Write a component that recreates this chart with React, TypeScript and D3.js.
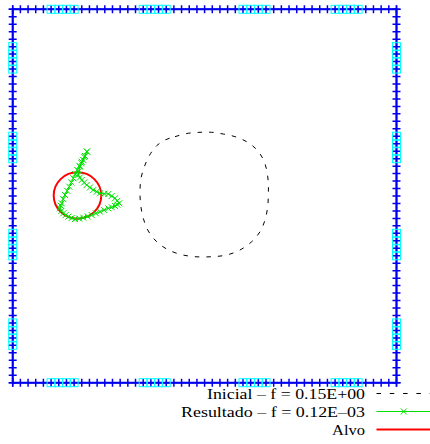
import React from "react";
import * as d3 from "d3";

const W = 430;
const H = 444;

// boundary mesh nodes along each side (parametric position 0..1)
const boundaryNodes = [
  0, 0.02, 0.04, 0.06, 0.08, 0.1, 0.12, 0.14, 0.16, 0.18, 0.2, 0.22, 0.24, 0.26, 0.28, 0.3, 0.32,
  0.34, 0.36, 0.38, 0.4, 0.42, 0.44, 0.46, 0.48, 0.5, 0.52, 0.54, 0.56, 0.58, 0.6, 0.62, 0.64, 0.66,
  0.68, 0.7, 0.72, 0.74, 0.76, 0.78, 0.8, 0.82, 0.84, 0.86, 0.88, 0.9, 0.92, 0.94, 0.96, 0.98, 1,
];
// indices of boundary nodes carrying sensors (same on every side)
const sensorNodes = [5, 6, 7, 8, 17, 18, 19, 20, 30, 31, 32, 33, 42, 43, 44, 45];

// initial shape (dashed)
const initialX = [
  0.397, 0.423, 0.4575, 0.488, 0.5185, 0.5487, 0.579, 0.6097, 0.634, 0.6514, 0.6618, 0.666, 0.666,
  0.6644, 0.6574, 0.6444, 0.6227, 0.5922, 0.5576, 0.5185, 0.475, 0.436, 0.4013, 0.3752, 0.3533,
  0.3403, 0.3335, 0.3317, 0.3343, 0.3447, 0.3596, 0.3752,
];
const initialY = [
  0.65, 0.659, 0.668, 0.6706, 0.6706, 0.666, 0.659, 0.6454, 0.626, 0.601, 0.5696, 0.534, 0.5027,
  0.4713, 0.4357, 0.4044, 0.3776, 0.3554, 0.342, 0.3374, 0.3374, 0.3439, 0.358, 0.3776, 0.4063,
  0.4403, 0.4759, 0.5115, 0.5474, 0.583, 0.6143, 0.6347,
];

// result shape (green with x markers)
const resultX = [
  0.1935, 0.1865, 0.1798, 0.174, 0.1683, 0.163, 0.1579, 0.1528, 0.1475, 0.142, 0.1363, 0.1318,
  0.1277, 0.125, 0.1232, 0.1268, 0.1318, 0.138, 0.1449, 0.1535, 0.1623, 0.1732, 0.184, 0.195,
  0.2058, 0.2168, 0.2275, 0.2383, 0.2491, 0.258, 0.2665, 0.2725, 0.2777, 0.2725, 0.2665, 0.2578,
  0.2491, 0.2383, 0.2275, 0.2188, 0.21, 0.2012, 0.1928, 0.1862, 0.1798, 0.175, 0.1709, 0.173,
  0.1754, 0.1795, 0.184, 0.1885, 0.1935,
];
const resultY = [
  0.619, 0.6045, 0.5919, 0.5808, 0.5696, 0.5585, 0.5474, 0.5362, 0.5249, 0.5138, 0.5027, 0.4916,
  0.4805, 0.474, 0.4671, 0.46, 0.4537, 0.4488, 0.4446, 0.441, 0.4384, 0.4395, 0.4419, 0.4452,
  0.4491, 0.4535, 0.458, 0.4625, 0.4671, 0.47, 0.4732, 0.4768, 0.4805, 0.487, 0.4938, 0.4998,
  0.5054, 0.506, 0.5072, 0.5115, 0.5161, 0.5228, 0.5295, 0.5362, 0.5429, 0.5495, 0.5562, 0.5675,
  0.5785, 0.5875, 0.5964, 0.607, 0.619,
];

// target (circle)
const targetCenter = [0.1688, 0.5013];
const targetRadius = 0.062;

const legendLabels = ["Inicial – f = 0.15E+00", "Resultado – f = 0.12E–03", "Alvo"];
const legendTextWidths = [158, 184, 33];

const BLUE = "#0000ee";
const CYAN = "#00ffff";
const GREEN = "#00e000";
const RED = "#ff0000";

export default function App() {
  const x = d3.scaleLinear().domain([0, 1]).range([12.7, 396.5]);
  const y = d3.scaleLinear().domain([0, 1]).range([382.7, 9.3]);

  // boundary points: bottom, right, top, left
  const nodes: [number, number][] = [];
  boundaryNodes.forEach((t) => nodes.push([t, 0]));
  boundaryNodes.forEach((t) => nodes.push([1, t]));
  boundaryNodes.forEach((t) => nodes.push([1 - t, 1]));
  boundaryNodes.forEach((t) => nodes.push([0, 1 - t]));

  const sensors: [number, number][] = [];
  sensorNodes.forEach((i) => {
    const t = boundaryNodes[i];
    sensors.push([t, 0], [1, t], [t, 1], [0, t]);
  });

  const lineGen = d3
    .line<[number, number]>()
    .x((d) => x(d[0]))
    .y((d) => y(d[1]));

  const initPts: [number, number][] = initialX.map((v, i) => [v, initialY[i]]);
  const initPath = d3
    .line<[number, number]>()
    .x((d) => x(d[0]))
    .y((d) => y(d[1]))
    .curve(d3.curveCatmullRomClosed)(initPts);

  const resPts: [number, number][] = resultX.map((v, i) => [v, resultY[i]]);
  const resPath = lineGen(resPts);

  const cx = x(targetCenter[0]);
  const cy = y(targetCenter[1]);
  const rx = x(targetRadius) - x(0);
  const ry = y(0) - y(targetRadius);

  const pl = 4; // plus arm
  const sq = 4; // half square
  const xm = 3; // x marker arm

  const legendY = [393.5, 411.5, 429.5];
  const legendTextX = 365;
  const legendLineX0 = 376.5;
  const legendLineX1 = 431;

  return (
    <svg
      width={W}
      height={H}
      style={{ position: "fixed", left: 0, top: 0, background: "#fff" }}
      fontFamily="'Liberation Serif', 'Times New Roman', serif"
    >
      <rect width={W} height={H} fill="#fff" />
      {/* boundary */}
      <path d={lineGen(nodes) || ""} fill="none" stroke={BLUE} strokeWidth={2} />
      <g stroke={BLUE} strokeWidth={1.5}>
        {nodes.map((d, i) => (
          <path
            key={i}
            d={`M${x(d[0]) - pl},${y(d[1])}H${x(d[0]) + pl}M${x(d[0])},${y(d[1]) - pl}V${y(d[1]) + pl}`}
          />
        ))}
      </g>
      <g stroke={CYAN} strokeWidth={1} fill="none">
        {sensors.map((d, i) => (
          <rect key={i} x={x(d[0]) - sq} y={y(d[1]) - sq} width={sq * 2} height={sq * 2} />
        ))}
      </g>

      {/* initial */}
      <path d={initPath || ""} fill="none" stroke="#000" strokeWidth={1} strokeDasharray="4.5,7" />

      {/* target */}
      <ellipse cx={cx} cy={cy} rx={rx} ry={ry} fill="none" stroke={RED} strokeWidth={2} />

      {/* result */}
      <path d={resPath || ""} fill="none" stroke={GREEN} strokeWidth={1} />
      <g stroke={GREEN} strokeWidth={1}>
        {resPts.map((d, i) => (
          <path
            key={i}
            d={`M${x(d[0]) - xm},${y(d[1]) - xm}L${x(d[0]) + xm},${y(d[1]) + xm}M${x(d[0]) - xm},${y(d[1]) + xm}L${x(d[0]) + xm},${y(d[1]) - xm}`}
          />
        ))}
      </g>

      {/* legend */}
      <g fontSize={15} fill="#000" textAnchor="end">
        {legendLabels.map((l, i) => (
          <text
            key={i}
            x={legendTextX}
            y={legendY[i]}
            dy="0.35em"
            textLength={legendTextWidths[i]}
            lengthAdjust="spacingAndGlyphs"
          >
            {l}
          </text>
        ))}
      </g>
      <line
        x1={legendLineX0}
        x2={legendLineX1}
        y1={legendY[0]}
        y2={legendY[0]}
        stroke="#000"
        strokeWidth={1}
        strokeDasharray="4.5,8.8"
      />
      <line x1={legendLineX0} x2={legendLineX1} y1={legendY[1]} y2={legendY[1]} stroke={GREEN} strokeWidth={1} />
      <path
        d={`M${(legendLineX0 + legendLineX1) / 2 - xm},${legendY[1] - xm}l${xm * 2},${xm * 2}M${(legendLineX0 + legendLineX1) / 2 - xm},${legendY[1] + xm}l${xm * 2},${-xm * 2}`}
        stroke={GREEN}
        strokeWidth={1}
      />
      <line x1={legendLineX0} x2={legendLineX1} y1={legendY[2]} y2={legendY[2]} stroke={RED} strokeWidth={2} />
    </svg>
  );
}
